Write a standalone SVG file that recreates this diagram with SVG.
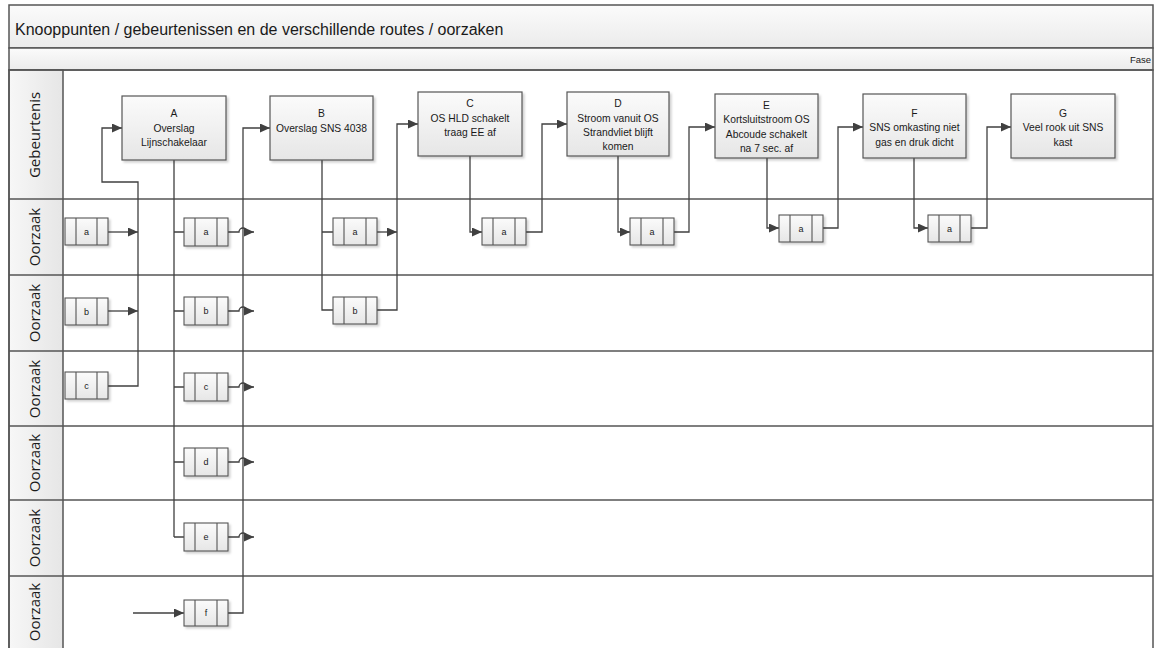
<svg xmlns="http://www.w3.org/2000/svg" width="1158" height="648" viewBox="0 0 1158 648">
<defs>
<linearGradient id="gBox" x1="0" y1="0" x2="0" y2="1"><stop offset="0" stop-color="#fbfbfb"/><stop offset="1" stop-color="#e6e6e6"/></linearGradient>
<linearGradient id="gBand" x1="0" y1="0" x2="0" y2="1"><stop offset="0" stop-color="#fbfbfb"/><stop offset="1" stop-color="#ebebeb"/></linearGradient>
<linearGradient id="gHead" x1="0" y1="0" x2="1" y2="0"><stop offset="0" stop-color="#f7f7f7"/><stop offset="1" stop-color="#e6e6e6"/></linearGradient>
<filter id="sh" x="-10%" y="-10%" width="130%" height="140%"><feDropShadow dx="2" dy="2" stdDeviation="1" flood-color="#000" flood-opacity="0.18"/></filter>
<marker id="ar" markerUnits="userSpaceOnUse" markerWidth="11" markerHeight="10" refX="10" refY="4.5" orient="auto"><path d="M0,0 L10,4.5 L0,9 z" fill="#404040"/></marker>
</defs>
<style>
.frame{fill:none;stroke:#555;stroke-width:1.5}
.band{fill:url(#gBand);stroke:#555;stroke-width:1.5}
.head{fill:url(#gHead);stroke:#555;stroke-width:1.5}
.lane{stroke:#555;stroke-width:1.5;fill:none}
.ev{fill:url(#gBox);stroke:#555;stroke-width:1.2;filter:url(#sh)}
.sb{fill:url(#gBox);stroke:#555;stroke-width:1.1;filter:url(#sh)}
.dv{stroke:#555;stroke-width:1.1}
.c{fill:none;stroke:#404040;stroke-width:1.3}
.ca{fill:none;stroke:#404040;stroke-width:1.3;marker-end:url(#ar)}
.t{font-family:"Liberation Sans",Arial,sans-serif;font-size:10.3px;fill:#1a1a1a;text-anchor:middle}
.ts{font-family:"Liberation Sans",Arial,sans-serif;font-size:9px;fill:#1a1a1a;text-anchor:middle}
.lt{font-family:"Open Sans",sans-serif;font-size:15px;fill:#1a1a1a;text-anchor:middle}
</style>
<rect x="0" y="0" width="1158" height="648" fill="#fff"/>
<g id="frame">
<rect class="band" x="9" y="5" width="1144" height="43"/>
<text x="15" y="35" font-family="Liberation Sans, Arial, sans-serif" font-size="16" fill="#1a1a1a">Knooppunten / gebeurtenissen en de verschillende routes / oorzaken</text>
<rect class="band" x="9" y="48" width="1144" height="22"/>
<text x="1151" y="63" font-family="Liberation Sans, Arial, sans-serif" font-size="9.5" fill="#1a1a1a" text-anchor="end">Fase</text>
<rect class="head" x="9" y="70" width="54" height="590"/>
<rect class="frame" x="9" y="70" width="1144" height="590"/>
<path class="lane" d="M9,199 H1153 M9,275 H1153 M9,351 H1153 M9,426 H1153 M9,500 H1153 M9,576 H1153"/>
</g>
<g id="lane-labels">
<text class="lt" transform="translate(40,135) rotate(-90)">Gebeurtenis</text>
<text class="lt" transform="translate(40,237) rotate(-90)">Oorzaak</text>
<text class="lt" transform="translate(40,313) rotate(-90)">Oorzaak</text>
<text class="lt" transform="translate(40,389) rotate(-90)">Oorzaak</text>
<text class="lt" transform="translate(40,463) rotate(-90)">Oorzaak</text>
<text class="lt" transform="translate(40,538) rotate(-90)">Oorzaak</text>
<text class="lt" transform="translate(40,612) rotate(-90)">Oorzaak</text>
</g>
<g id="connectors">
<path class="ca" d="M108,232 H138"/>
<path class="ca" d="M108,311 H138"/>
<path class="ca" d="M108,386 H138 V182 H102 V128 H122"/>
<path class="c" d="M174,160 V537 M174,232 H184 M174,311 H184 M174,387 H184 M174,462 H184 M174,537 H184"/>
<path class="ca" d="M228,232 H239 A4,4 0 0 1 247,232 H254"/>
<path class="ca" d="M228,311 H239 A4,4 0 0 1 247,311 H254"/>
<path class="ca" d="M228,387 H239 A4,4 0 0 1 247,387 H254"/>
<path class="ca" d="M228,462 H239 A4,4 0 0 1 247,462 H254"/>
<path class="ca" d="M228,537 H239 A4,4 0 0 1 247,537 H254"/>
<path class="ca" d="M133,613 H184"/>
<path class="ca" d="M228,613 H243 V128 H270"/>
<path class="c" d="M322,160 V310 H333 M322,232 H333"/>
<path class="ca" d="M377,232 H397"/>
<path class="ca" d="M377,310 H397 V124 H418"/>
<path class="ca" d="M470,156 V232 H482"/>
<path class="ca" d="M526,232 H542 V124 H567"/>
<path class="ca" d="M618,156 V232 H630"/>
<path class="ca" d="M674,232 H689 V127 H715"/>
<path class="ca" d="M767,158 V228 H779"/>
<path class="ca" d="M823,228 H838 V127 H863"/>
<path class="ca" d="M914,158 V228 H928"/>
<path class="ca" d="M971,228 H987 V127 H1011"/>
</g>
<g id="A"><rect class="ev" x="122" y="96" width="104" height="64"/>
<text class="t" x="174" y="117">A</text><text class="t" x="174" y="132">Overslag</text><text class="t" x="174" y="146">Lijnschakelaar</text></g>
<g id="B"><rect class="ev" x="270" y="96" width="103" height="64"/>
<text class="t" x="321.5" y="117">B</text><text class="t" x="321.5" y="132">Overslag SNS 4038</text></g>
<g id="C"><rect class="ev" x="418" y="92" width="104" height="64"/>
<text class="t" x="470" y="107">C</text><text class="t" x="470" y="122">OS HLD schakelt</text><text class="t" x="470" y="136">traag EE af</text></g>
<g id="D"><rect class="ev" x="567" y="92" width="102" height="64"/>
<text class="t" x="618" y="107">D</text><text class="t" x="618" y="122">Stroom vanuit OS</text><text class="t" x="618" y="136">Strandvliet blijft</text><text class="t" x="618" y="150">komen</text></g>
<g id="E"><rect class="ev" x="715" y="94" width="103" height="64"/>
<text class="t" x="766.5" y="109">E</text><text class="t" x="766.5" y="123">Kortsluitstroom OS</text><text class="t" x="766.5" y="138">Abcoude schakelt</text><text class="t" x="766.5" y="152">na 7 sec. af</text></g>
<g id="F"><rect class="ev" x="863" y="94" width="103" height="64"/>
<text class="t" x="914.5" y="117">F</text><text class="t" x="914.5" y="131">SNS omkasting niet</text><text class="t" x="914.5" y="146">gas en druk dicht</text></g>
<g id="G"><rect class="ev" x="1011" y="94" width="104" height="64"/>
<text class="t" x="1063" y="117">G</text><text class="t" x="1063" y="131">Veel rook uit SNS</text><text class="t" x="1063" y="146">kast</text></g>
<g id="A-a"><rect class="sb" x="65" y="218" width="43" height="27"/><path class="dv" d="M76,218 V245 M97,218 V245"/><text class="ts" x="86.5" y="235">a</text></g>
<g id="A-b"><rect class="sb" x="65" y="298" width="43" height="27"/><path class="dv" d="M76,298 V325 M97,298 V325"/><text class="ts" x="86.5" y="315">b</text></g>
<g id="A-c"><rect class="sb" x="65" y="372" width="43" height="27"/><path class="dv" d="M76,372 V399 M97,372 V399"/><text class="ts" x="86.5" y="389">c</text></g>
<g id="B-a"><rect class="sb" x="184" y="218" width="44" height="28"/><path class="dv" d="M195,218 V246 M217,218 V246"/><text class="ts" x="206" y="235">a</text></g>
<g id="B-b"><rect class="sb" x="184" y="297" width="44" height="28"/><path class="dv" d="M195,297 V325 M217,297 V325"/><text class="ts" x="206" y="314">b</text></g>
<g id="B-c"><rect class="sb" x="184" y="373" width="44" height="28"/><path class="dv" d="M195,373 V401 M217,373 V401"/><text class="ts" x="206" y="390">c</text></g>
<g id="B-d"><rect class="sb" x="184" y="448" width="44" height="28"/><path class="dv" d="M195,448 V476 M217,448 V476"/><text class="ts" x="206" y="465">d</text></g>
<g id="B-e"><rect class="sb" x="184" y="523" width="44" height="28"/><path class="dv" d="M195,523 V551 M217,523 V551"/><text class="ts" x="206" y="540">e</text></g>
<g id="B-f"><rect class="sb" x="184" y="600" width="44" height="26"/><path class="dv" d="M195,600 V626 M217,600 V626"/><text class="ts" x="206" y="616">f</text></g>
<g id="C-a"><rect class="sb" x="333" y="218" width="44" height="27"/><path class="dv" d="M344,218 V245 M366,218 V245"/><text class="ts" x="355" y="235">a</text></g>
<g id="C-b"><rect class="sb" x="333" y="297" width="44" height="27"/><path class="dv" d="M344,297 V324 M366,297 V324"/><text class="ts" x="355" y="314">b</text></g>
<g id="D-a"><rect class="sb" x="482" y="218" width="44" height="27"/><path class="dv" d="M493,218 V245 M515,218 V245"/><text class="ts" x="504" y="235">a</text></g>
<g id="E-a"><rect class="sb" x="630" y="218" width="44" height="27"/><path class="dv" d="M641,218 V245 M663,218 V245"/><text class="ts" x="652" y="235">a</text></g>
<g id="F-a"><rect class="sb" x="779" y="215" width="44" height="27"/><path class="dv" d="M790,215 V242 M812,215 V242"/><text class="ts" x="801" y="232">a</text></g>
<g id="G-a"><rect class="sb" x="928" y="215" width="43" height="27"/><path class="dv" d="M939,215 V242 M960,215 V242"/><text class="ts" x="949.5" y="232">a</text></g>
</svg>
